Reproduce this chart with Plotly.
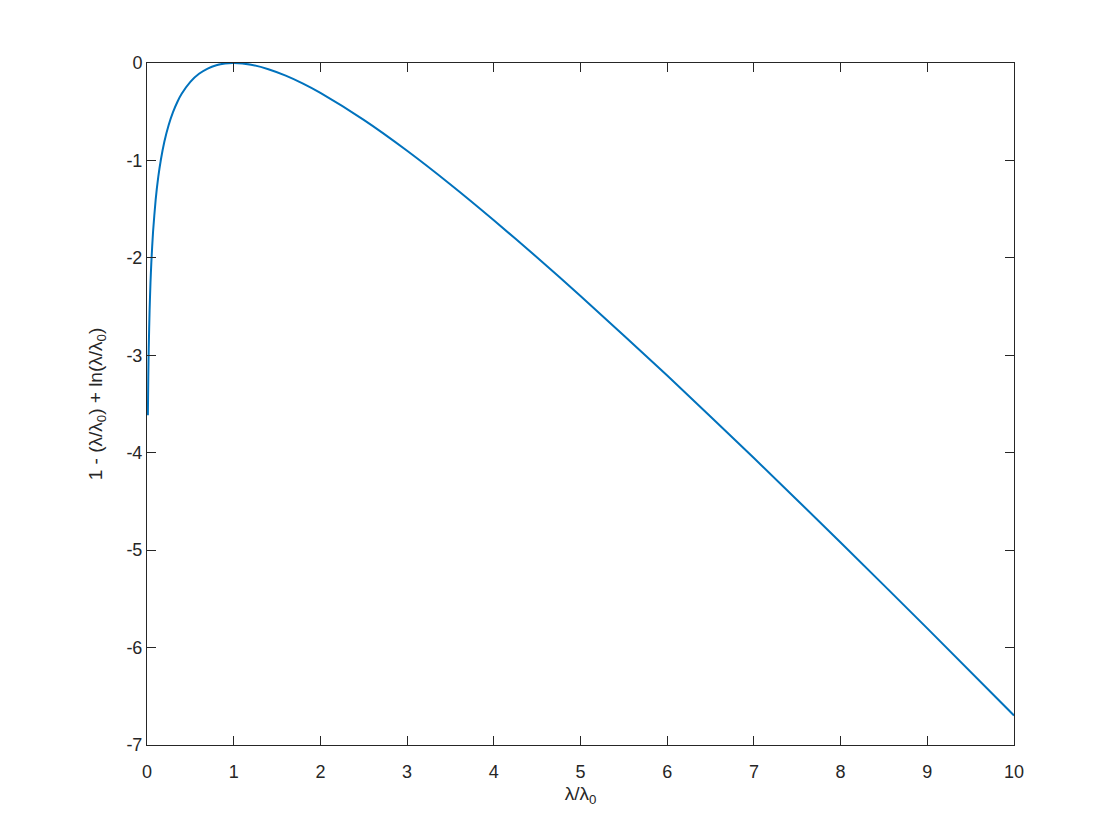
import plotly.graph_objects as go

# values (lambda/lambda0, 1 - x + ln x)
ratio = [0.01, 0.015, 0.02, 0.03, 0.04, 0.05, 0.07, 0.1, 0.13, 0.16, 0.2, 0.25, 0.3,
         0.35, 0.4, 0.5, 0.6, 0.7, 0.8, 0.9, 1.0, 1.2, 1.4, 1.6, 1.8, 2.0, 2.5, 3.0,
         3.5, 4.0, 4.5, 5.0, 6.0, 7.0, 8.0, 9.0, 10.0]
value = [-3.615, -3.215, -2.932, -2.537, -2.259, -2.046, -1.729, -1.403, -1.170, -0.993,
         -0.809, -0.636, -0.504, -0.400, -0.316, -0.193, -0.111, -0.057, -0.023, -0.005,
         0.0, -0.018, -0.064, -0.130, -0.212, -0.307, -0.584, -0.901, -1.247, -1.614,
         -1.996, -2.391, -3.208, -4.054, -4.921, -5.803, -6.697]

x_ticks = list(range(0, 11))
y_ticks = list(range(-7, 1))
y_tick_text = [str(v) for v in y_ticks]  # plain hyphen, like the reference

axis_color = "#262626"

fig = go.Figure()

fig.add_trace(go.Scatter(
    x=ratio,
    y=value,
    mode="lines",
    line=dict(color="#0072BD", width=2, shape="spline", smoothing=0.6),
    hoverinfo="skip"
))

fig.update_layout(
    width=1120,
    height=840,
    margin=dict(t=55, b=103, l=139, r=114),
    paper_bgcolor="white",
    plot_bgcolor="white",
    showlegend=False,
    font=dict(family="Liberation Sans", size=18, color=axis_color),
)

fig.update_xaxes(
    range=[0, 10],
    tickmode="array",
    tickvals=x_ticks,
    ticks="inside",
    ticklen=9,
    tickcolor=axis_color,
    showline=True,
    linecolor=axis_color,
    linewidth=1,
    mirror="ticks",
    showgrid=False,
    zeroline=False,
    ticklabelstandoff=10,
    tickfont=dict(size=18),
    title=dict(text="λ/λ<sub>0</sub>", standoff=6, font=dict(size=19)),
)

fig.update_yaxes(
    range=[-7, 0],
    tickmode="array",
    tickvals=y_ticks,
    ticktext=y_tick_text,
    ticks="inside",
    ticklen=9,
    tickcolor=axis_color,
    showline=True,
    linecolor=axis_color,
    linewidth=1,
    mirror="ticks",
    showgrid=False,
    zeroline=False,
    tickfont=dict(size=18),
    title=dict(text="1 - (λ/λ<sub>0</sub>) + ln(λ/λ<sub>0</sub>)", standoff=18, font=dict(size=19)),
)

fig.write_html("out.html")
